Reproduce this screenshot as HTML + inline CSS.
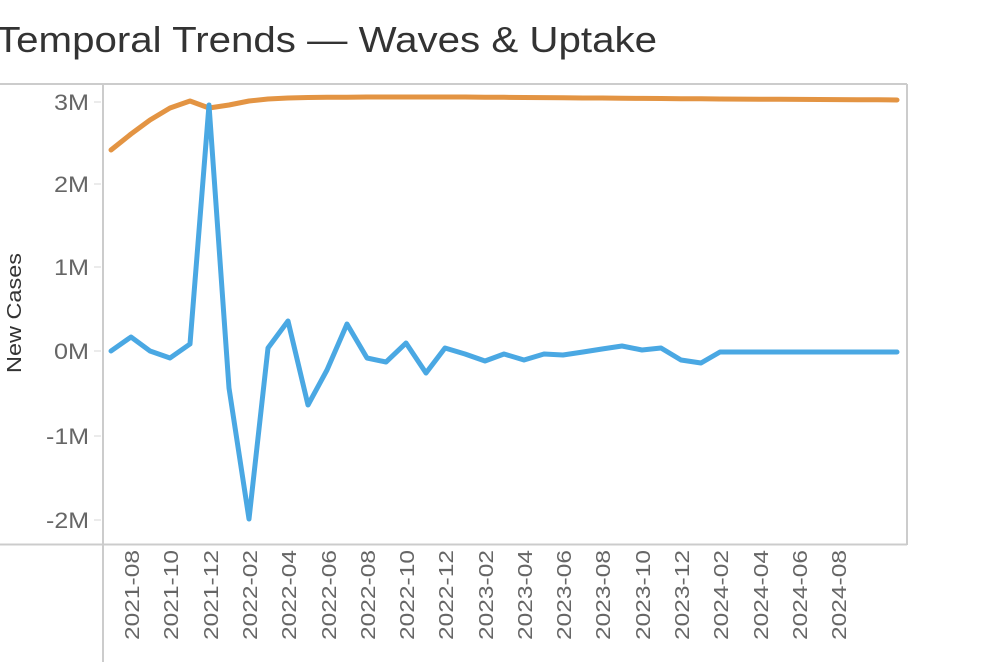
<!DOCTYPE html>
<html><head><meta charset="utf-8"><style>
body{margin:0;background:#fff;width:994px;height:662px;overflow:hidden}
text{font-family:"Liberation Sans",sans-serif}
</style></head><body>
<svg width="994" height="662" xmlns="http://www.w3.org/2000/svg">
<text x="-4" y="52" font-size="36" fill="#333" textLength="661" lengthAdjust="spacingAndGlyphs">Temporal Trends — Waves &amp; Uptake</text>
<g stroke="#ccc" stroke-width="2" fill="none">
<line x1="0" y1="84" x2="907" y2="84"/>
<line x1="0" y1="544.5" x2="907" y2="544.5"/>
<line x1="103" y1="84" x2="103" y2="662"/>
<line x1="907" y1="84" x2="907" y2="545"/>
</g>
<g stroke="#e4e4e4" stroke-width="1.5">
<line x1="94" y1="102" x2="101" y2="102"/><line x1="94" y1="184" x2="101" y2="184"/>
<line x1="94" y1="267" x2="101" y2="267"/><line x1="94" y1="351" x2="101" y2="351"/>
<line x1="94" y1="436" x2="101" y2="436"/><line x1="94" y1="520" x2="101" y2="520"/>
</g>
<g font-size="22" fill="#666" text-anchor="end">
<text x="89" y="110" textLength="35" lengthAdjust="spacingAndGlyphs">3M</text>
<text x="89" y="192" textLength="35" lengthAdjust="spacingAndGlyphs">2M</text>
<text x="89" y="275" textLength="35" lengthAdjust="spacingAndGlyphs">1M</text>
<text x="89" y="359" textLength="35" lengthAdjust="spacingAndGlyphs">0M</text>
<text x="89" y="444" textLength="43" lengthAdjust="spacingAndGlyphs">-1M</text>
<text x="89" y="528" textLength="43" lengthAdjust="spacingAndGlyphs">-2M</text>
</g>
<text transform="translate(21,313) rotate(-90)" font-size="20" fill="#333" text-anchor="middle" textLength="120" lengthAdjust="spacingAndGlyphs">New Cases</text>
<g font-size="20" fill="#666" text-anchor="end">
<text transform="translate(139,550) rotate(-90)" textLength="90" lengthAdjust="spacingAndGlyphs">2021-08</text>
<text transform="translate(178,550) rotate(-90)" textLength="90" lengthAdjust="spacingAndGlyphs">2021-10</text>
<text transform="translate(218,550) rotate(-90)" textLength="90" lengthAdjust="spacingAndGlyphs">2021-12</text>
<text transform="translate(257,550) rotate(-90)" textLength="90" lengthAdjust="spacingAndGlyphs">2022-02</text>
<text transform="translate(296,550) rotate(-90)" textLength="90" lengthAdjust="spacingAndGlyphs">2022-04</text>
<text transform="translate(336,550) rotate(-90)" textLength="90" lengthAdjust="spacingAndGlyphs">2022-06</text>
<text transform="translate(375,550) rotate(-90)" textLength="90" lengthAdjust="spacingAndGlyphs">2022-08</text>
<text transform="translate(414,550) rotate(-90)" textLength="90" lengthAdjust="spacingAndGlyphs">2022-10</text>
<text transform="translate(453,550) rotate(-90)" textLength="90" lengthAdjust="spacingAndGlyphs">2022-12</text>
<text transform="translate(493,550) rotate(-90)" textLength="90" lengthAdjust="spacingAndGlyphs">2023-02</text>
<text transform="translate(532,550) rotate(-90)" textLength="90" lengthAdjust="spacingAndGlyphs">2023-04</text>
<text transform="translate(571,550) rotate(-90)" textLength="90" lengthAdjust="spacingAndGlyphs">2023-06</text>
<text transform="translate(610,550) rotate(-90)" textLength="90" lengthAdjust="spacingAndGlyphs">2023-08</text>
<text transform="translate(650,550) rotate(-90)" textLength="90" lengthAdjust="spacingAndGlyphs">2023-10</text>
<text transform="translate(689,550) rotate(-90)" textLength="90" lengthAdjust="spacingAndGlyphs">2023-12</text>
<text transform="translate(728,550) rotate(-90)" textLength="90" lengthAdjust="spacingAndGlyphs">2024-02</text>
<text transform="translate(768,550) rotate(-90)" textLength="90" lengthAdjust="spacingAndGlyphs">2024-04</text>
<text transform="translate(807,550) rotate(-90)" textLength="90" lengthAdjust="spacingAndGlyphs">2024-06</text>
<text transform="translate(846,550) rotate(-90)" textLength="90" lengthAdjust="spacingAndGlyphs">2024-08</text>
</g>
<polyline fill="none" stroke="#e39443" stroke-width="5" stroke-linecap="round" stroke-linejoin="round"
points="111,150 131,134 150,120 170,108 190,101 209,108 229,105 249,101 268,99 288,98 308,97.5 327,97.3 347,97.2 367,97 386,97 406,97 426,97 445,97 465,97 485,97.2 504,97.3 524,97.5 544,97.6 563,97.8 583,98 602,98 622,98.2 642,98.4 661,98.5 681,98.7 701,98.8 720,99 740,99.1 760,99.2 779,99.3 799,99.4 819,99.5 838,99.6 858,99.7 878,99.8 897,100"/>
<polyline fill="none" stroke="#4aa8e3" stroke-width="5" stroke-linecap="round" stroke-linejoin="round"
points="111,351 131,337 150,351 170,358 190,344 209,105 229,388 249,519 268,348 288,321 308,405 327,370 347,324 367,358 386,362 406,343 426,373 445,348 465,354 485,361 504,354 524,360 544,354 563,355 583,352 602,349 622,346 642,350 661,348 681,360 701,363 720,352 740,352 760,352 779,352 799,352 819,352 838,352 858,352 878,352 897,352"/>
</svg>
</body></html>
